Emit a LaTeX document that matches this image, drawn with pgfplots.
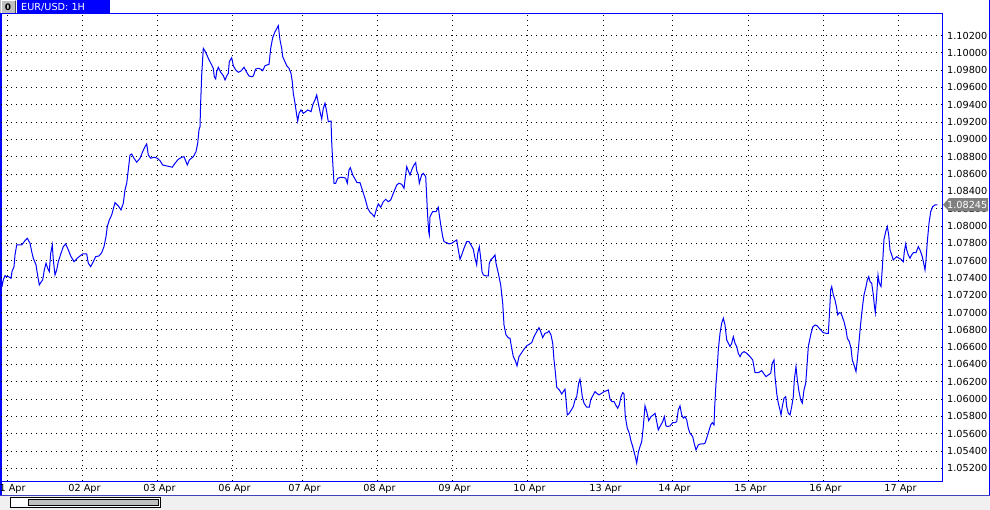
\documentclass[border=0pt]{standalone}
\usepackage{pgfplots}
\pgfplotsset{compat=1.18}
\usepackage{fontspec}
\setmainfont{DejaVu Sans}
\definecolor{winblue}{RGB}{0,0,255}
\definecolor{panelgray}{RGB}{240,240,240}
\definecolor{pricegray}{RGB}{128,128,128}
\definecolor{btngray}{RGB}{192,192,192}
\newcommand{\uifont}{\fontsize{9.7pt}{11pt}\selectfont}
\begin{document}
\begin{tikzpicture}[x=1pt,y=1pt]
\useasboundingbox (0,0) rectangle (990,-510);
\fill[white] (0,0) rectangle (990,-510);
% bottom panel
\fill[panelgray] (0,-495) rectangle (990,-510);
\draw[line width=1pt, blue!50!gray] (0,-495) -- (990,-495);
\draw[line width=1pt, black, fill=white] (10,-497.5) rectangle (160,-507.5);
\draw[line width=1pt, black, fill=btngray] (28,-499.5) rectangle (158,-505.5);
% window borders
\draw[winblue, line width=2pt] (1,-14) -- (1,-495);
\draw[winblue, line width=1pt] (989.5,0) -- (989.5,-495);
% title tab
\fill[winblue] (17,0) rectangle (110,-14);
\node[anchor=base west, inner sep=0, text=white, font=\uifont] at (21,-10.5) {EUR/USD: 1H};
% icon button
\fill[btngray] (0,0) rectangle (16,-14);
\draw[white, line width=1pt] (1,-13.5) -- (1,-1) -- (15,-1);
\draw[black!70, line width=1pt] (15,-1) -- (15,-13.5) -- (1,-13.5);
\node[inner sep=0, font=\bfseries\fontsize{9pt}{10pt}\selectfont] at (8,-7.2) {0};
\begin{axis}[
  at={(1pt,-481pt)}, anchor=south west,
  scale only axis, width=941pt, height=467pt,
  xmin=1, xmax=942, ymin=1.050533, ymax=1.104484,
  axis line style={winblue, line width=1pt},
  clip mode=individual,
  major tick length=0pt,
  xtick={7,82,157,232,302,377,452,527,603,672,748,823,898},
  xticklabels={01 Apr,02 Apr,03 Apr,06 Apr,07 Apr,08 Apr,09 Apr,10 Apr,13 Apr,14 Apr,15 Apr,16 Apr,17 Apr},
  ytick={1.052,1.054,1.056,1.058,1.060,1.062,1.064,1.066,1.068,1.070,1.072,1.074,1.076,1.078,1.080,1.082,1.084,1.086,1.088,1.090,1.092,1.094,1.096,1.098,1.100,1.102},
  yticklabel pos=right,
  /pgf/number format/assume math mode=true,
  yticklabel style={/pgf/number format/fixed, /pgf/number format/fixed zerofill, /pgf/number format/precision=5, anchor=west, inner sep=0pt, xshift=5pt},
  xticklabel style={anchor=base, inner sep=0pt, yshift=-10pt, xshift=2.5pt},
  tick label style={font=\uifont, text=black},
  grid=major,
  major grid style={black, line width=0.8pt, dash pattern=on 0.8pt off 4.2pt},
]
\addplot[winblue, line width=1pt] coordinates {
(0.7,1.07396) (2.3,1.07318) (3.3,1.07376) (5,1.07426) (6.7,1.07414) (8.3,1.07414) (11,1.07396) (12,1.07472)
(14,1.07530) (15,1.07665) (16.7,1.07780) (18.3,1.07780) (21.7,1.07780) (25,1.07830) (27.3,1.07858) (30,1.07800)
(31.7,1.07703) (33.3,1.07627) (36,1.07549) (37.3,1.07453) (39.3,1.07318) (40.7,1.07345) (42.7,1.07376) (44.3,1.07492)
(46,1.07569) (47.7,1.07511) (49.3,1.07472) (50.7,1.07684) (52.3,1.07780) (53.3,1.07607) (55,1.07434) (56.7,1.07492)
(58.3,1.07587) (61,1.07684) (63.3,1.07761) (65.7,1.07792) (68.3,1.07723) (70.7,1.07653) (74,1.07587) (77.3,1.07627)
(80,1.07653) (82.7,1.07676) (86.7,1.07676) (88.3,1.07569) (90.7,1.07530) (93.3,1.07587) (95.7,1.07645) (99,1.07653)
(101.7,1.07691) (104,1.07761) (106,1.07876) (107.3,1.07992) (109.3,1.08069) (111.7,1.08127) (115,1.08269) (118.3,1.08231)
(121,1.08185) (123.3,1.08262) (125,1.08416) (126.7,1.08493) (128.3,1.08647) (130,1.08820) (131.7,1.08831) (134,1.08782)
(136.7,1.08736) (140,1.08782) (142.7,1.08858) (145,1.08916) (146.7,1.08947) (148.3,1.08820) (150.7,1.08782) (154,1.08793)
(157.3,1.08782) (160,1.08754) (162.7,1.08704) (166.7,1.08693) (170,1.08685) (172.3,1.08678) (175,1.08724) (178.3,1.08770)
(181.7,1.08793) (184,1.08800) (186,1.08742) (187.3,1.08704) (189.3,1.08762) (193.3,1.08800) (196,1.08858) (197.7,1.08955)
(199,1.09109) (200,1.09147) (200.7,1.09435) (201.7,1.09744) (203.3,1.10052) (205.7,1.10006) (208.3,1.09937) (211.7,1.09859)
(213.3,1.09821) (214.3,1.09724) (215.7,1.09698) (216.7,1.09782) (218.3,1.09833) (220.7,1.09775) (223.3,1.09736) (225,1.09686)
(226.7,1.09732) (228.3,1.09763) (229.3,1.09897) (231.7,1.09944) (233.3,1.09851) (235.7,1.09802) (238.3,1.09775) (241,1.09790)
(244,1.09833) (246.7,1.09775) (249,1.09732) (251.7,1.09724) (253.3,1.09732) (255.7,1.09813) (258.3,1.09821) (261,1.09810)
(262.7,1.09793) (265,1.09851) (269,1.09867) (270.7,1.10052) (272.7,1.10175) (275,1.10244) (277,1.10283) (278.3,1.10313)
(280,1.10148) (281.7,1.10052) (282.7,1.09955) (285,1.09897) (286.7,1.09851) (289,1.09821) (291,1.09763) (292.3,1.09666)
(293.3,1.09532) (295,1.09417) (296.7,1.09282) (297.7,1.09212) (299,1.09301) (301,1.09340) (303.3,1.09301) (305.7,1.09320)
(307.7,1.09340) (311,1.09320) (313.3,1.09417) (315,1.09455) (316.7,1.09513) (318.3,1.09417) (320,1.09320) (321.7,1.09236)
(323.3,1.09359) (325,1.09417) (326.7,1.09320) (328.3,1.09204) (331,1.09212) (331.7,1.08973) (332.7,1.08742) (334,1.08493)
(335.7,1.08493) (337.7,1.08551) (340.7,1.08562) (344,1.08558) (345.7,1.08551) (347.3,1.08493) (349,1.08647) (350.3,1.08673)
(352.7,1.08589) (355,1.08543) (357,1.08500) (360,1.08500) (362.3,1.08416) (365,1.08320) (367.7,1.08204) (370,1.08158)
(372.3,1.08135) (374.3,1.08107) (376.7,1.08204) (378.3,1.08254) (380.7,1.08216) (383.3,1.08280) (385.7,1.08308) (388.3,1.08280)
(390.7,1.08300) (392.7,1.08358) (394,1.08396) (396.7,1.08473) (399,1.08493) (401.7,1.08481) (404,1.08435) (405,1.08531)
(406.7,1.08685) (407.7,1.08655) (410,1.08589) (412.3,1.08666) (414,1.08704) (415.7,1.08731) (416.7,1.08638) (418.3,1.08589)
(419.3,1.08493) (420.7,1.08551) (421.7,1.08589) (423.3,1.08608) (425.7,1.08569) (426.7,1.08338) (427.7,1.08107) (428.7,1.07934)
(429.3,1.07896) (430,1.08107) (431.7,1.08146) (432.7,1.08165) (436,1.08165) (438.3,1.08216) (439.3,1.08127) (441,1.07992)
(442.7,1.07876) (444,1.07818) (446.7,1.07807) (449,1.07792) (451.7,1.07800) (454,1.07818) (456.7,1.07838) (458.3,1.07723)
(460,1.07615) (461.7,1.07665) (464,1.07742) (466.7,1.07818) (469,1.07818) (471,1.07780) (473.3,1.07731) (475,1.07627)
(476.7,1.07549) (477.7,1.07684) (479.3,1.07761) (480.7,1.07627) (482,1.07472) (483.3,1.07434) (486,1.07422) (488.3,1.07422)
(489.3,1.07569) (490.7,1.07607) (493.3,1.07638) (495,1.07665) (496,1.07569) (498.3,1.07453) (500.7,1.07318) (502.7,1.07107)
(504,1.06856) (506,1.06741) (508.7,1.06703) (510,1.06703) (511.7,1.06587) (513.3,1.06490) (515.3,1.06444) (517,1.06383)
(519,1.06490) (521.7,1.06536) (524,1.06576) (526.7,1.06614) (529.3,1.06633) (531.7,1.06652) (534,1.06721) (536.7,1.06779)
(539,1.06825) (540.7,1.06779) (542.7,1.06710) (545,1.06760) (547.3,1.06767) (549,1.06787) (551,1.06741) (552.7,1.06645)
(554,1.06452) (555.3,1.06317) (556.7,1.06137) (559.3,1.06106) (561.7,1.06059) (563.3,1.06086) (565,1.06114) (566,1.05990)
(567.3,1.05817) (569.3,1.05836) (571.3,1.05875) (573.3,1.05913) (575,1.05990) (576.7,1.06028) (578.7,1.06183) (580,1.06229)
(581,1.06144) (582.3,1.06028) (584,1.05952) (586.7,1.05906) (589.3,1.05906) (590.7,1.05990) (592.7,1.06036) (595,1.06086)
(596.7,1.06067) (599,1.06048) (601.7,1.06067) (604,1.06086) (606.7,1.06097) (608.3,1.06106) (610,1.05998) (612,1.05970)
(614,1.05970) (615.7,1.05932) (617.7,1.05894) (619.3,1.05932) (621,1.06028) (622.7,1.06074) (624,1.06059) (625.3,1.05797)
(627.3,1.05663) (629.3,1.05605) (630.7,1.05528) (632.7,1.05451) (634,1.05393) (635.3,1.05335) (636.7,1.05259) (638.3,1.05381)
(640,1.05451) (641.7,1.05508) (643.3,1.05682) (645,1.05921) (646.7,1.05855) (648.7,1.05751) (651,1.05797) (653.3,1.05817)
(655,1.05836) (656.7,1.05739) (658.3,1.05644) (660,1.05682) (662.7,1.05739) (664.3,1.05797) (666,1.05690) (667.3,1.05682)
(670,1.05690) (672.7,1.05728) (675,1.05728) (676.7,1.05739) (678.3,1.05875) (680,1.05921) (681.7,1.05817) (683.3,1.05779)
(685,1.05797) (686.7,1.05759) (688.3,1.05663) (690,1.05605) (692.7,1.05566) (694.3,1.05482) (696,1.05413) (698.3,1.05470)
(700.7,1.05482) (703.3,1.05482) (705,1.05490) (706.7,1.05548) (708.7,1.05624) (710.7,1.05701) (712.3,1.05728) (714,1.05701)
(714.7,1.05913) (716,1.06183) (717.3,1.06375) (718.3,1.06568) (720,1.06760) (721.7,1.06876) (723.3,1.06934) (725,1.06856)
(726.7,1.06683) (728.3,1.06645) (730,1.06606) (731.7,1.06645) (733.3,1.06721) (735,1.06645) (736.7,1.06606) (738.3,1.06529)
(740,1.06490) (741.7,1.06529) (744,1.06548) (746.7,1.06529) (750,1.06490) (752.7,1.06452) (755,1.06305) (758.3,1.06305)
(761.7,1.06328) (764,1.06290) (766,1.06259) (768.3,1.06279) (770.7,1.06298) (772.3,1.06414) (774,1.06452) (775,1.06259)
(776.7,1.06067) (778.3,1.05952) (780,1.05875) (781,1.05817) (782.3,1.05913) (784,1.06010) (785.7,1.06028) (786.7,1.05913)
(788.3,1.05836) (790,1.05817) (791.7,1.05913) (793.3,1.06028) (794.3,1.06221) (796,1.06375) (797.3,1.06221) (799,1.06086)
(800.7,1.05990) (802.3,1.05952) (804,1.06106) (805.7,1.06183) (806.7,1.06337) (808.3,1.06606) (810.7,1.06741) (812.7,1.06830)
(815,1.06856) (817.3,1.06845) (820,1.06807) (823.3,1.06767) (826,1.06760) (828.3,1.06760) (829.3,1.06952) (830.7,1.07261)
(831.7,1.07299) (833.3,1.07203) (835,1.07145) (836.7,1.07049) (837.7,1.06972) (839.3,1.06998) (841,1.06991) (842.3,1.06952)
(844,1.06894) (846,1.06799) (847.3,1.06703) (849.3,1.06663) (851,1.06587) (852.3,1.06452) (854,1.06394) (856,1.06317)
(857.3,1.06452) (858.7,1.06625) (860.7,1.06876) (862.7,1.07087) (864,1.07203) (866,1.07299) (867.3,1.07376) (868.7,1.07414)
(870,1.07356) (871.7,1.07338) (873.3,1.07203) (874.3,1.07087) (875.3,1.06998) (876.7,1.07203) (878,1.07434) (879.3,1.07338)
(881,1.07299) (882.3,1.07511) (884,1.07846) (885.7,1.07934) (887.3,1.07992) (888.7,1.07896) (890,1.07723) (891.7,1.07665)
(893.3,1.07607) (895,1.07627) (896.7,1.07645) (899,1.07627) (901,1.07615) (903.3,1.07587) (904.3,1.07703) (905.7,1.07792)
(906.7,1.07723) (908.3,1.07665) (910,1.07627) (911.7,1.07665) (913.3,1.07691) (916,1.07691) (918.3,1.07761) (920,1.07723)
(922.3,1.07645) (924,1.07549) (925,1.07492) (926,1.07607) (927.3,1.07818) (929,1.08031) (930.7,1.08165) (932.7,1.08223)
(935,1.08242) (937.3,1.08245)
};
\coordinate (p) at (axis cs:943,1.08245);
\fill[pricegray] (p) -- ++(6pt,6.7pt) -- ++(39pt,0pt) -- ++(0pt,-13.4pt) -- ++(-39pt,0pt) -- cycle;
\node[anchor=west, inner sep=0pt, text=white, font=\uifont] at ([xshift=4pt]p) {1.08245};
\end{axis}
\end{tikzpicture}
\end{document}
